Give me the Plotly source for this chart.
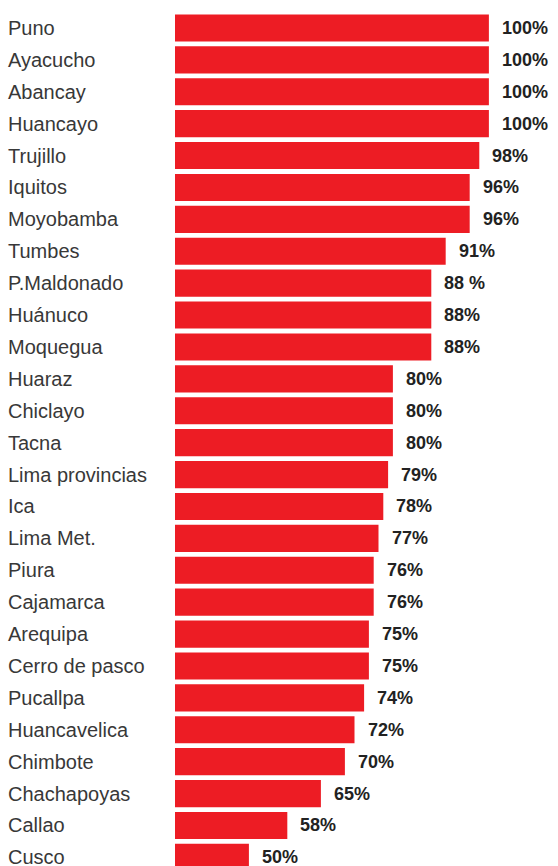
import plotly.graph_objects as go

cities = ["Puno", "Ayacucho", "Abancay", "Huancayo", "Trujillo", "Iquitos", "Moyobamba",
          "Tumbes", "P.Maldonado", "Huánuco", "Moquegua", "Huaraz", "Chiclayo", "Tacna",
          "Lima provincias", "Ica", "Lima Met.", "Piura", "Cajamarca", "Arequipa",
          "Cerro de pasco", "Pucallpa", "Huancavelica", "Chimbote", "Chachapoyas",
          "Callao", "Cusco"]
values = [100, 100, 100, 100, 98, 96, 96, 91, 88, 88, 88, 80, 80, 80, 79, 78, 77, 76, 76,
          75, 75, 74, 72, 70, 65, 58, 50]
value_labels = ["100%", "100%", "100%", "100%", "98%", "96%", "96%", "91%", "88 %", "88%",
                "88%", "80%", "80%", "80%", "79%", "78%", "77%", "76%", "76%", "75%", "75%",
                "74%", "72%", "70%", "65%", "58%", "50%"]

W, H = 558, 866
left_px = 175
x_min, x_max = 34.6, 114.4

fig = go.Figure(go.Bar(
    x=values, y=cities, orientation="h",
    marker=dict(color="#ED1C24", line=dict(width=0)),
    hoverinfo="skip",
))

annotations = []
plot_w = W - left_px
for c, v, t in zip(cities, values, value_labels):
    annotations.append(dict(
        x=v, y=c, xref="x", yref="y", text="<b>" + t + "</b>", showarrow=False,
        xanchor="left", yanchor="middle", xshift=11,
        font=dict(family="Liberation Sans, Arial, sans-serif", size=18, color="#222222"),
    ))
    annotations.append(dict(
        x=(6 - left_px) / plot_w, y=c, xref="paper", yref="y", text=c, showarrow=False,
        xanchor="left", yanchor="middle",
        font=dict(family="Liberation Sans, Arial, sans-serif", size=20, color="#383838"),
    ))

n = len(cities)
fig.update_layout(
    width=W, height=H,
    margin=dict(l=left_px, r=0, t=12, b=0),
    paper_bgcolor="white", plot_bgcolor="white",
    bargap=0.15,
    showlegend=False,
    xaxis=dict(range=[x_min, x_max], visible=False, fixedrange=True),
    yaxis=dict(range=[n - 0.73, -0.5], showticklabels=False, showgrid=False,
               zeroline=False, ticks="", fixedrange=True),
    annotations=annotations,
)

fig.write_html("out.html")
